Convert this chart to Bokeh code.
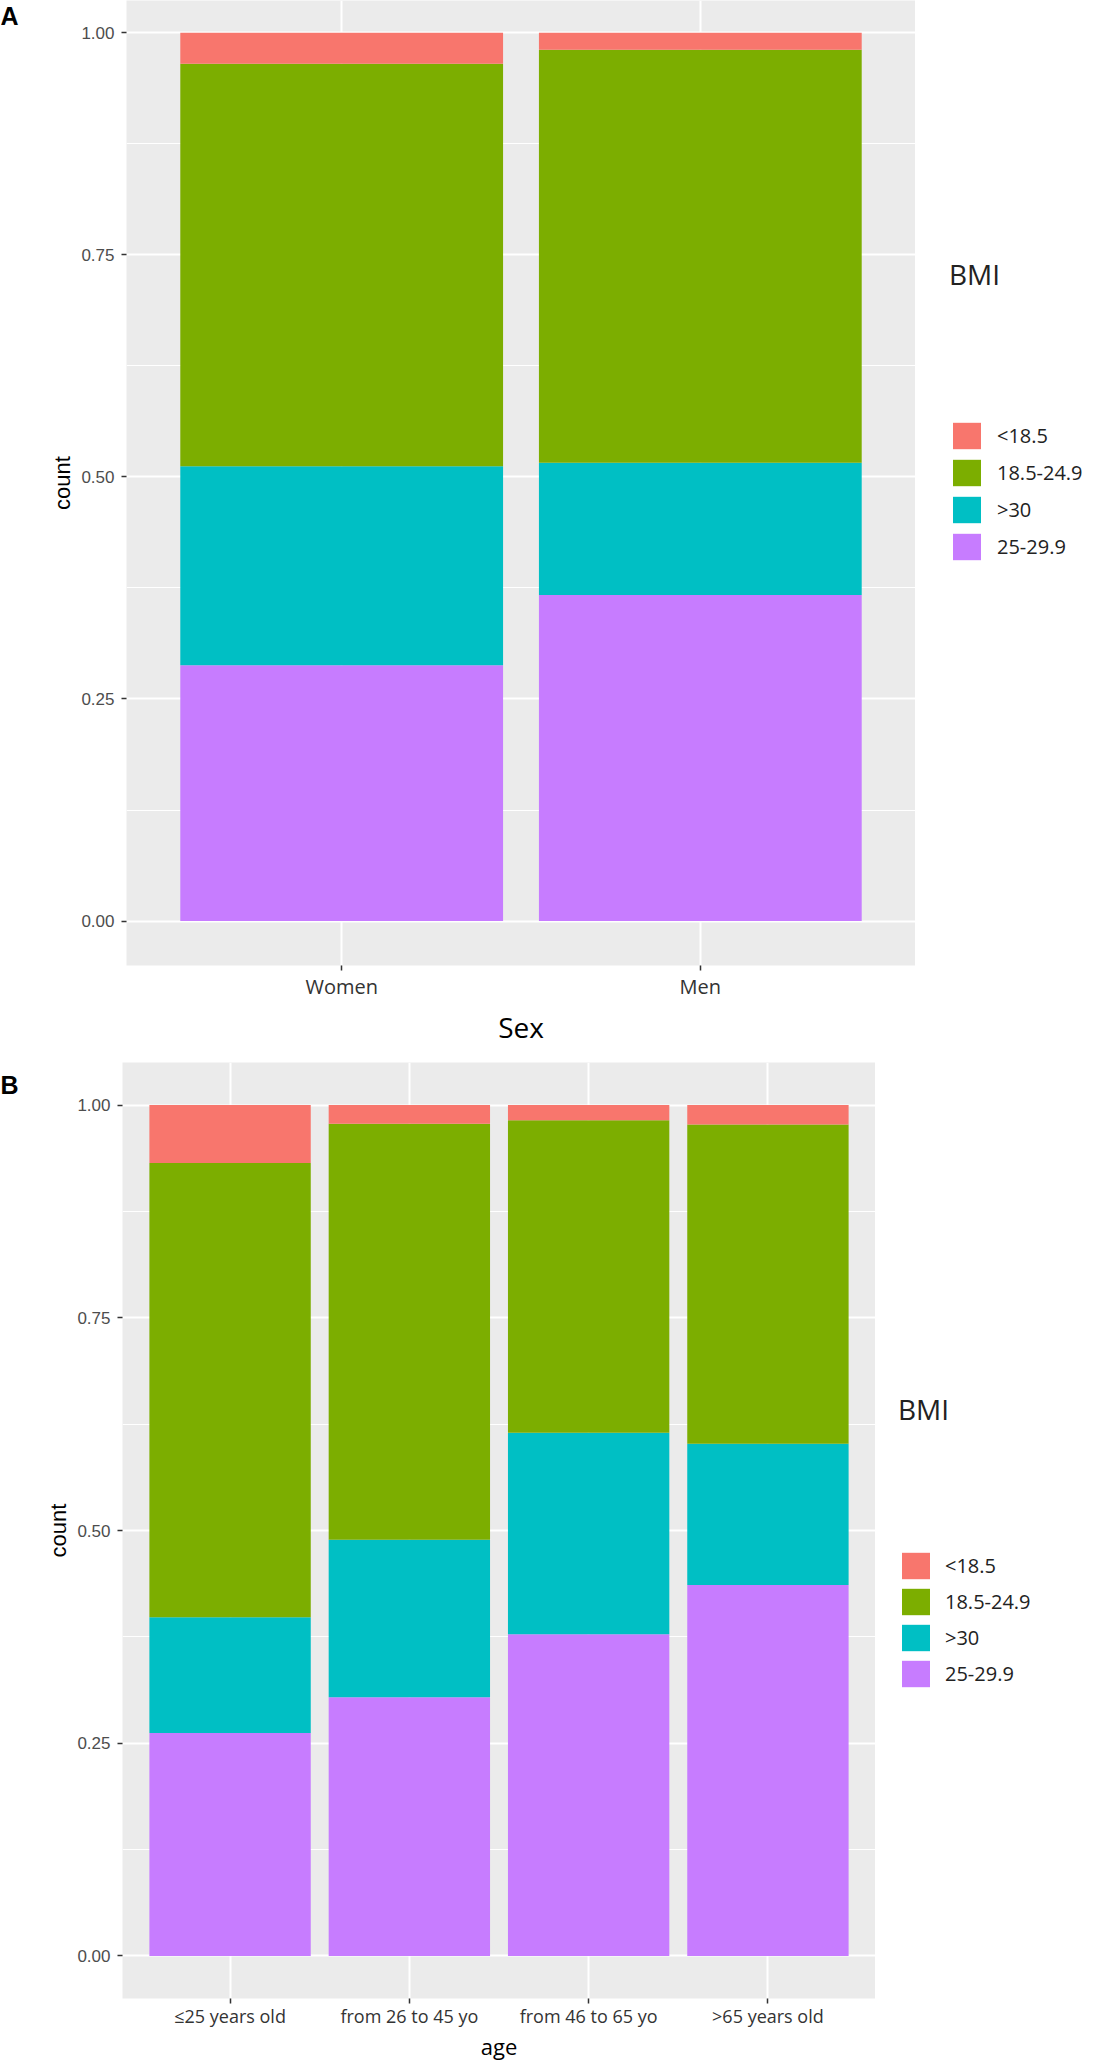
from bokeh.plotting import figure
from bokeh.models import (ColumnDataSource, Range1d, FixedTicker, NumeralTickFormatter,
                          Legend, LegendItem, Spacer)
from bokeh.core.properties import value
from bokeh.layouts import column, row
from bokeh.embed import file_html
from bokeh.resources import INLINE

# ---- data ----
bmi_labels = ["<18.5", "18.5-24.9", ">30", "25-29.9"]          # legend order
bmi_colors = ["#F8766D", "#7CAE00", "#00BFC4", "#C77CFF"]

sex_groups = ["Women", "Men"]
sex_lt18_5 = [0.035, 0.019]
sex_18_5_24_9 = [0.453, 0.465]
sex_gt30 = [0.224, 0.149]
sex_25_29_9 = [0.288, 0.367]

age_groups = ["\u226425 years old", "from 26 to 45 yo", "from 46 to 65 yo", ">65 years old"]
age_lt18_5 = [0.068, 0.022, 0.018, 0.023]
age_18_5_24_9 = [0.534, 0.489, 0.367, 0.375]
age_gt30 = [0.136, 0.185, 0.237, 0.166]
age_25_29_9 = [0.262, 0.304, 0.378, 0.436]

y_ticks = [0, 0.25, 0.5, 0.75, 1.0]
y_minor = [0.125, 0.375, 0.625, 0.875]

LETTER_W = 30


def blank_fig(width, height):
    f = figure(width=width, height=height, output_backend="svg", toolbar_location=None,
               x_range=Range1d(0, width), y_range=Range1d(0, height),
               min_border=0, min_border_left=0, min_border_right=0,
               min_border_top=0, min_border_bottom=0)
    f.outline_line_color = None
    f.background_fill_alpha = 0
    f.border_fill_alpha = 0
    f.axis.visible = False
    f.grid.visible = False
    return f


def letter_fig(letter, height, top):
    f = blank_fig(LETTER_W, height)
    f.text(x=[0], y=[height - top], text=[letter], text_font=value("Liberation Sans"),
           text_font_style="bold", text_font_size="25px", text_baseline="top",
           text_align="left", text_color="black")
    return f


def legend_fig(width, height, spacing, title_standoff, label_standoff):
    f = blank_fig(width, height)
    # off-screen swatch renderers, used only for the legend keys
    rs = [f.vbar(x=[-100], bottom=[-200], top=[-100], width=1, color=c, line_color=None)
          for c in bmi_colors]
    items = [LegendItem(label=lab, renderers=[r]) for lab, r in zip(bmi_labels, rs)]
    leg = Legend(items=items, location="top_left", title="BMI",
                 title_text_font="Open Sans", title_text_font_size="28px",
                 title_text_font_style="normal", title_text_color="#222222",
                 title_standoff=title_standoff,
                 label_text_font="Open Sans", label_text_font_size="20px",
                 label_text_color="#222222", label_standoff=label_standoff,
                 glyph_width=35, glyph_height=33, label_height=33,
                 spacing=spacing, padding=0, margin=0,
                 border_line_color=None, background_fill_alpha=0)
    f.add_layout(leg, "center")
    return f


def make_panel(groups, lt18, n18, gt30, ow25, xlabel, width, height,
               border_left, border_top, border_bottom, y_end,
               xtick_size, xtick_standoff, xlabel_size, xlabel_standoff, ylabel_standoff):
    n = len(groups)
    xs = list(range(1, n + 1))
    src = ColumnDataSource(dict(x=xs, lt18=lt18, n18=n18, gt30=gt30, ow25=ow25))
    p = figure(width=width, height=height, output_backend="svg", toolbar_location=None,
               x_range=Range1d(0.4, n + 0.6), y_range=Range1d(-0.05, y_end),
               min_border_left=border_left, min_border_right=0,
               min_border_top=border_top, min_border_bottom=border_bottom)
    p.background_fill_color = "#EBEBEB"
    p.border_fill_color = "white"
    p.outline_line_color = None

    stack_keys = ["ow25", "gt30", "n18", "lt18"]
    stack_colors = [bmi_colors[3], bmi_colors[2], bmi_colors[1], bmi_colors[0]]
    p.vbar_stack(stack_keys, x="x", width=0.9, color=stack_colors,
                 line_color=None, source=src)

    # grid
    p.xgrid.ticker = FixedTicker(ticks=xs)
    p.xgrid.grid_line_color = "white"
    p.xgrid.grid_line_width = 2
    p.ygrid.ticker = FixedTicker(ticks=y_ticks, minor_ticks=y_minor)
    p.ygrid.grid_line_color = "white"
    p.ygrid.grid_line_width = 2
    p.ygrid.minor_grid_line_color = "white"
    p.ygrid.minor_grid_line_width = 1

    # axes
    p.xaxis.ticker = FixedTicker(ticks=xs)
    p.xaxis.major_label_overrides = {x: g for x, g in zip(xs, groups)}
    p.yaxis.ticker = FixedTicker(ticks=y_ticks, minor_ticks=y_minor)
    p.yaxis.formatter = NumeralTickFormatter(format="0.00")
    for ax in (p.xaxis, p.yaxis):
        ax.axis_line_color = None
        ax.major_tick_in = 0
        ax.major_tick_out = 5
        ax.major_tick_line_color = "#333333"
        ax.major_tick_line_width = 1.5
        ax.minor_tick_in = 0
        ax.minor_tick_out = 0
        ax.major_label_text_color = "#4D4D4D"
        ax.axis_label_text_color = "black"
        ax.axis_label_text_font_style = "normal"
    p.yaxis.major_label_text_font = "Liberation Sans"
    p.yaxis.major_label_text_font_size = "17px"
    p.yaxis.major_label_standoff = 7
    p.yaxis.axis_label = "count"
    p.yaxis.axis_label_text_font = "Liberation Sans"
    p.yaxis.axis_label_text_font_size = "22px"
    p.yaxis.axis_label_standoff = ylabel_standoff
    p.xaxis.major_label_text_font = "Open Sans"
    p.xaxis.major_label_text_font_size = xtick_size
    p.xaxis.major_label_text_color = "#333333"
    p.xaxis.major_label_standoff = xtick_standoff
    p.xaxis.axis_label = xlabel
    p.xaxis.axis_label_text_font = "Open Sans"
    p.xaxis.axis_label_text_font_size = xlabel_size
    p.xaxis.axis_label_standoff = xlabel_standoff
    return p


# Panel A: x 0..30 letter, 30..915 plot, 915..1099 legend ; y 0..1048
HA = 1048
pA = make_panel(sex_groups, sex_lt18_5, sex_18_5_24_9, sex_gt30, sex_25_29_9,
                "Sex", 885, HA, 96, 0, 81, 1.0363, "20px", 2, "28px", 5, 3)
lA = letter_fig("A", HA, 2)
topA = 255
gA = legend_fig(150, HA - topA, 4, 126, 13)
rowA = row(lA, pA, Spacer(width=34, height=HA), column(Spacer(width=150, height=topA), gA))

# Panel B: x 0..30 letter, 30..875 plot, 875..1099 legend ; y 1048..2066
HB = 1018
pB = make_panel(age_groups, age_lt18_5, age_18_5_24_9, age_gt30, age_25_29_9,
                "age", 845, HB, 92, 14, 68, 1.05, "18px", 0, "22px", 0, 3)
lB = letter_fig("B", HB, 9)
topB = 342
gB = legend_fig(201, HB - topB, 3, 121, 12)
rowB = row(lB, pB, Spacer(width=23, height=HB), column(Spacer(width=201, height=topB), gB))

layout = column(rowA, rowB)
open("out.html", "w").write(file_html(layout, INLINE))
